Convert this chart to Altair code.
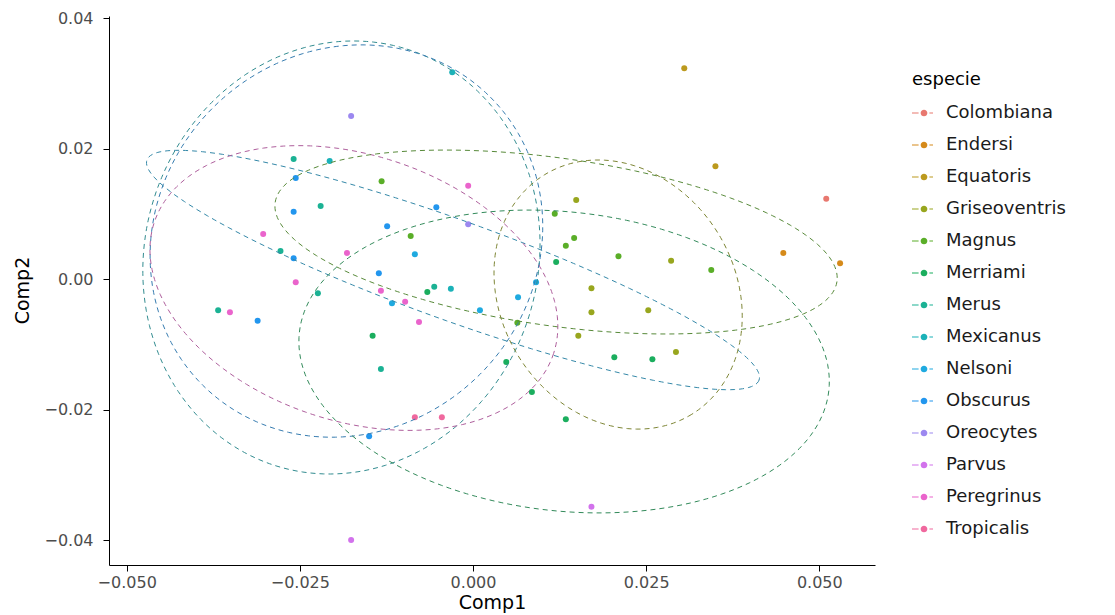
import altair as alt
import numpy as np
import pandas as pd

especies = ["Colombiana", "Endersi", "Equatoris", "Griseoventris", "Magnus",
            "Merriami", "Merus", "Mexicanus", "Nelsoni", "Obscurus",
            "Oreocytes", "Parvus", "Peregrinus", "Tropicalis"]
point_colors = ["#E8786F", "#D58A1A", "#BC9A1E", "#98A61E", "#5AAE28",
                "#1BAE5E", "#1BB294", "#1BB2B8", "#1FAAE0", "#2296EE",
                "#9C88F0", "#D272EC", "#EA64CC", "#F0689E"]

# points (Comp1, Comp2)
especie = (["Colombiana"] + ["Endersi"] * 2 + ["Equatoris"] * 2 + ["Griseoventris"] * 7
           + ["Magnus"] * 8 + ["Merriami"] * 8 + ["Merus"] * 7 + ["Mexicanus"] * 3
           + ["Nelsoni"] * 5 + ["Obscurus"] * 8 + ["Oreocytes"] * 2 + ["Parvus"] * 2
           + ["Peregrinus"] * 8 + ["Tropicalis"] * 2)
comp1 = [0.0510,
         0.0530, 0.0448,
         0.0305, 0.0350,
         0.0149, 0.0171, 0.0171, 0.0152, 0.0253, 0.0286, 0.0293,
         -0.0132, -0.0090, 0.0118, 0.0146, 0.0134, 0.0210, 0.0344, 0.0064,
         0.0204, 0.0259, 0.0134, 0.0048, 0.0085, -0.0066, -0.0145, 0.0120,
         -0.0056, -0.0133, -0.0224, -0.0278, -0.0368, -0.0220, -0.0259,
         -0.0030, -0.0207, -0.0032,
         -0.0084, -0.0117, 0.0010, 0.0065, 0.0091,
         -0.0256, -0.0259, -0.0259, -0.0124, -0.0053, -0.0311, -0.0150, -0.0136,
         -0.0176, -0.0007,
         -0.0176, 0.0171,
         -0.0303, -0.0182, -0.0256, -0.0351, -0.0133, -0.0098, -0.0078, -0.0007,
         -0.0084, -0.0045]
comp2 = [0.0123,
         0.0024, 0.0040,
         0.0323, 0.0173,
         0.0121, -0.0014, -0.0051, -0.0087, -0.0048, 0.0028, -0.0112,
         0.0150, 0.0066, 0.0100, 0.0063, 0.0051, 0.0035, 0.0014, -0.0067,
         -0.0120, -0.0123, -0.0215, -0.0127, -0.0173, -0.0020, -0.0087, 0.0026,
         -0.0012, -0.0138, -0.0022, 0.0043, -0.0048, 0.0112, 0.0184,
         0.0317, 0.0181, -0.0015,
         0.0038, -0.0037, -0.0048, -0.0028, -0.0005,
         0.0155, 0.0103, 0.0032, 0.0081, 0.0110, -0.0064, -0.0241, 0.0009,
         0.0250, 0.0084,
         -0.0400, -0.0349,
         0.0069, 0.0040, -0.0005, -0.0051, -0.0018, -0.0035, -0.0066, 0.0143,
         -0.0212, -0.0212]

# ellipse parameters: centre and two conjugate semi-axis vectors
ell_especie = ["Mexicanus", "Obscurus", "Nelsoni", "Peregrinus", "Magnus", "Griseoventris", "Merriami"]
ell_cx = [-0.0190, -0.01828, -0.00289, -0.0172, 0.01199, 0.02095, 0.01315]
ell_cy = [0.0033, 0.00582, 0.00138, -0.00138, 0.00567, -0.00238, -0.01264]
ell_ux = [0.00944, 0.02079, 0.04419, 0.02883, 0.04056, 0.01064, 0.03822]
ell_uy = [0.03194, 0.02205, -0.01687, -0.01005, -0.00605, -0.01835, -0.00449]
ell_vx = [0.02708, 0.01927, -0.00245, -0.00600, -0.00169, -0.01442, -0.00238]
ell_vy = [-0.00900, -0.02044, -0.00721, -0.01937, -0.01273, -0.00941, -0.02277]


def mix(c, g=(0x55, 0x55, 0x55), w=0.6):
    r, gg, b = int(c[1:3], 16), int(c[3:5], 16), int(c[5:7], 16)
    return "#%02X%02X%02X" % (int(r * w + g[0] * (1 - w)), int(gg * w + g[1] * (1 - w)), int(b * w + g[2] * (1 - w)))


line_colors = [mix(c) for c in point_colors]

pts = pd.DataFrame({"especie": especie, "Comp1": comp1, "Comp2": comp2})

t = np.linspace(0, 2 * np.pi, 181)
rows = []
for i, sp in enumerate(ell_especie):
    xs = ell_cx[i] + ell_ux[i] * np.cos(t) + ell_vx[i] * np.sin(t)
    ys = ell_cy[i] + ell_uy[i] * np.cos(t) + ell_vy[i] * np.sin(t)
    for k, (a, b) in enumerate(zip(xs, ys)):
        rows.append({"especie": sp, "k": k, "Comp1": a, "Comp2": b})
ell = pd.DataFrame(rows)

FONT = "DejaVu Sans"
xsc = alt.Scale(domain=[-0.05256, 0.05804], nice=False, zero=False)
ysc = alt.Scale(domain=[-0.04383, 0.04031], nice=False, zero=False)

xax = alt.Axis(values=[-0.05, -0.025, 0, 0.025, 0.05], format=".3f", title="Comp1",
               titlePadding=3)
yax = alt.Axis(values=[-0.04, -0.02, 0, 0.02, 0.04], format=".2f", title="Comp2",
               titleX=-87, titleY=274, titleAngle=-90, titleBaseline="middle", titleAlign="center")

key_path = ("M-1,-0.045H-0.45V0.045H-1Z M0.45,-0.045H0.75V0.045H0.45Z "
            "M-0.28,0A0.28,0.28 0 1,0 0.28,0A0.28,0.28 0 1,0 -0.28,0Z")

points = alt.Chart(pts).mark_circle(size=36, opacity=1).encode(
    x=alt.X("Comp1:Q", scale=xsc, axis=xax),
    y=alt.Y("Comp2:Q", scale=ysc, axis=yax),
    fill=alt.Fill("especie:N", scale=alt.Scale(domain=especies, range=point_colors),
                  legend=alt.Legend(title="especie", orient="none", legendX=803, legendY=55,
                                    symbolType=key_path, symbolSize=576, symbolStrokeWidth=0,
                                    rowPadding=11, labelOffset=10, titlePadding=12,
                                    labelFontSize=18, titleFontSize=18, titleFontWeight="normal",
                                    labelFont=FONT, titleFont=FONT, labelColor="#1a1a1a",
                                    titleColor="#000000", padding=0)),
)

ellipses = alt.Chart(ell).mark_line(strokeWidth=1, strokeDash=[5, 4]).encode(
    x=alt.X("Comp1:Q", scale=xsc),
    y=alt.Y("Comp2:Q", scale=ysc),
    stroke=alt.Stroke("especie:N", scale=alt.Scale(domain=especies, range=line_colors), legend=None),
    order=alt.Order("k:Q"),
)

chart = alt.layer(points, ellipses).properties(
    width=766, height=549,
    autosize=alt.AutoSizeParams(type="none"),
    padding={"left": 101, "top": 8, "right": 232, "bottom": 50},
).configure_view(stroke=None).configure_axis(
    grid=False, domainColor="#000000", domainWidth=1, tickColor="#000000", tickSize=6,
    labelFont=FONT, labelFontSize=16, labelColor="#4D4D4D", labelPadding=3,
    titleFont=FONT, titleFontSize=19, titleFontWeight="normal", titleColor="#000000",
).configure_axisY(labelPadding=10)

chart.save("out.html", embed_options={"renderer": "svg", "actions": False})
